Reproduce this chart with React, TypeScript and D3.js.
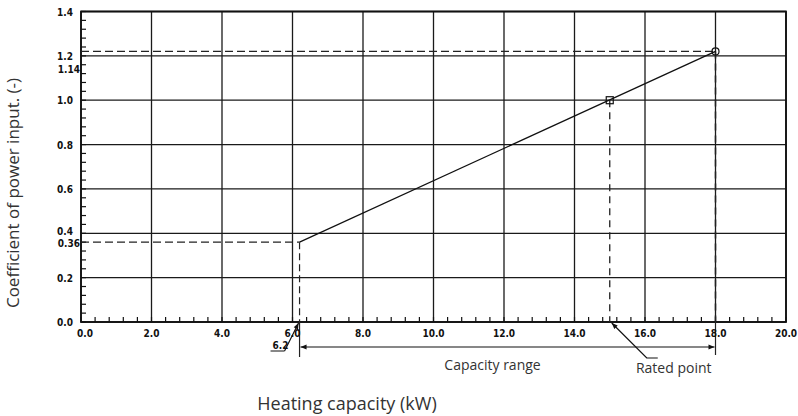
import * as d3 from "d3";

// chart values
const xTicks = [0, 2, 4, 6, 8, 10, 12, 14, 16, 18, 20];
const yTicks = [0, 0.2, 0.4, 0.6, 0.8, 1.0, 1.2, 1.4];
const yExtraLabels = [1.14, 0.36];
const curveX = [6.2, 18];
const curveY = [0.36, 1.22];
const ratedPoint = { x: 15, y: 1.0 };
const maxPoint = { x: 18, y: 1.22 };
const minCapacity = 6.2;

const W = 798;
const H = 416;
const margin = { top: 11.5, right: 12, bottom: 94, left: 81 };

const tickFont = "'DejaVu Sans Condensed', 'DejaVu Sans', sans-serif";
const textFont = "'Open Sans', 'Noto Sans', sans-serif";

export default function App() {
  const x = d3.scaleLinear().domain([0, 20]).range([margin.left, W - margin.right]);
  const y = d3.scaleLinear().domain([0, 1.4]).range([H - margin.bottom, margin.top]);

  const minorX = d3.range(0, 20.001, 0.4);
  const minorY = d3.range(0, 1.4001, 0.04);

  const line = d3
    .line<number>()
    .x((d) => x(curveX[d]))
    .y((d) => y(curveY[d]));

  const y0 = y(0);
  const rangeY = y0 + 25;
  const fmt = d3.format(".1f");

  return (
    <svg
      width={W}
      height={H}
      style={{ position: "absolute", left: 0, top: 0, background: "#fff" }}
    >
      <defs>
        <marker id="arr" viewBox="0 0 10 10" refX="10" refY="5" markerWidth="8" markerHeight="6" orient="auto-start-reverse" markerUnits="userSpaceOnUse">
          <path d="M0,1 L10,5 L0,9 Z" fill="#111" />
        </marker>
      </defs>

      {/* grid */}
      {xTicks.map((t) => (
        <line key={"gx" + t} x1={x(t)} x2={x(t)} y1={y(0)} y2={y(1.4)} stroke="#1a1a1a" strokeWidth={1.3} />
      ))}
      {yTicks.map((t) => (
        <line key={"gy" + t} x1={x(0)} x2={x(20)} y1={y(t)} y2={y(t)} stroke="#1a1a1a" strokeWidth={1.3} />
      ))}

      {/* minor ticks */}
      {minorX.map((t, i) => (
        <line key={"mx" + i} x1={x(t)} x2={x(t)} y1={y0} y2={y0 - 5} stroke="#111" strokeWidth={1.2} />
      ))}
      {minorY.map((t, i) => (
        <line key={"my" + i} x1={x(0)} x2={x(0) + 5} y1={y(t)} y2={y(t)} stroke="#111" strokeWidth={1.2} />
      ))}

      {/* frame */}
      <rect x={x(0)} y={y(1.4)} width={x(20) - x(0)} height={y(0) - y(1.4)} fill="none" stroke="#111" strokeWidth={1.8} />

      {/* dashed guides */}
      <line x1={x(0)} x2={x(minCapacity)} y1={y(curveY[0])} y2={y(curveY[0])} stroke="#222" strokeWidth={1.2} strokeDasharray="8,4" />
      <line x1={x(0)} x2={x(maxPoint.x)} y1={y(maxPoint.y)} y2={y(maxPoint.y)} stroke="#222" strokeWidth={1.2} strokeDasharray="8,4" />
      <line x1={x(minCapacity)} x2={x(minCapacity)} y1={y(curveY[0])} y2={y0} stroke="#222" strokeWidth={1.2} strokeDasharray="7,4" />
      <line x1={x(minCapacity)} x2={x(minCapacity)} y1={y0} y2={rangeY + 10} stroke="#222" strokeWidth={1.2} />
      <line x1={x(ratedPoint.x)} x2={x(ratedPoint.x)} y1={y(ratedPoint.y)} y2={y0} stroke="#222" strokeWidth={1.3} strokeDasharray="7,5" />
      <line x1={x(maxPoint.x)} x2={x(maxPoint.x)} y1={y(maxPoint.y)} y2={y0} stroke="#222" strokeWidth={1.5} strokeDasharray="7,5" />
      <line x1={x(maxPoint.x)} x2={x(maxPoint.x)} y1={y0} y2={rangeY + 8} stroke="#222" strokeWidth={1.2} />

      {/* curve */}
      <path d={line([0, 1]) || ""} fill="none" stroke="#111" strokeWidth={1.3} />
      <rect x={x(ratedPoint.x) - 3.5} y={y(ratedPoint.y) - 3.5} width={7} height={7} fill="none" stroke="#111" strokeWidth={1.2} />
      <circle cx={x(maxPoint.x)} cy={y(maxPoint.y)} r={3.5} fill="none" stroke="#111" strokeWidth={1.2} />

      {/* y tick labels */}
      {yTicks.map((t) => (
        <text key={"ly" + t} x={73} y={y(t) + (t === 0.4 ? 2 : 4)} textAnchor="end" fontFamily={tickFont} fontWeight="bold" fontSize={10} fill="#111">
          {fmt(t)}
        </text>
      ))}
      {yExtraLabels.map((t) => (
        <text key={"le" + t} x={80} y={y(t) + (t === 0.36 ? 5 : 4)} textAnchor="end" fontFamily={tickFont} fontWeight="bold" fontSize={10} fill="#111">
          {t.toFixed(2)}
        </text>
      ))}

      {/* x tick labels */}
      {xTicks.map((t) => (
        <text key={"lx" + t} x={x(t) + (t === 0 ? 4 : 0)} y={y0 + 15} textAnchor="middle" fontFamily={tickFont} fontWeight="bold" fontSize={10} fill="#111">
          {fmt(t)}
        </text>
      ))}

      {/* 6.2 callout */}
      <text x={x(minCapacity) - 27} y={y0 + 27} fontFamily={tickFont} fontWeight="bold" fontSize={10} fill="#111">
        {minCapacity.toFixed(1)}
      </text>
      <line x1={x(minCapacity) - 29} x2={x(minCapacity) - 15} y1={y0 + 29} y2={y0 + 29} stroke="#111" strokeWidth={1} />
      <line x1={x(minCapacity) - 15} y1={y0 + 29} x2={x(minCapacity) - 1} y2={y0 + 1} stroke="#111" strokeWidth={1.2} markerEnd="url(#arr)" />

      {/* capacity range */}
      <line x1={x(minCapacity) + 1} x2={x(maxPoint.x) - 1} y1={rangeY} y2={rangeY} stroke="#111" strokeWidth={1.2} markerStart="url(#arr)" markerEnd="url(#arr)" />
      <text x={(x(minCapacity) + x(maxPoint.x)) / 2 - 15} y={370} textAnchor="middle" fontFamily={textFont} fontSize={14} fill="#333">
        Capacity range
      </text>

      {/* rated point callout */}
      <polyline
        points={`${x(ratedPoint.x) + 48},${rangeY + 11} ${x(ratedPoint.x) + 37},${rangeY + 11} ${x(ratedPoint.x) + 2},${y0 + 1}`}
        fill="none"
        stroke="#111"
        strokeWidth={1.2}
        markerEnd="url(#arr)"
      />
      <text x={x(ratedPoint.x) + 64} y={373} textAnchor="middle" fontFamily={textFont} fontSize={14} fill="#333">
        Rated point
      </text>

      {/* axis titles */}
      <text x={347} y={410} textAnchor="middle" fontFamily={textFont} fontSize={18} fill="#333">
        Heating capacity (kW)
      </text>
      <text transform={`translate(19,${193}) rotate(-90)`} textAnchor="middle" fontFamily={textFont} fontSize={17} fill="#333">
        Coefficient of power input. (-)
      </text>
    </svg>
  );
}
